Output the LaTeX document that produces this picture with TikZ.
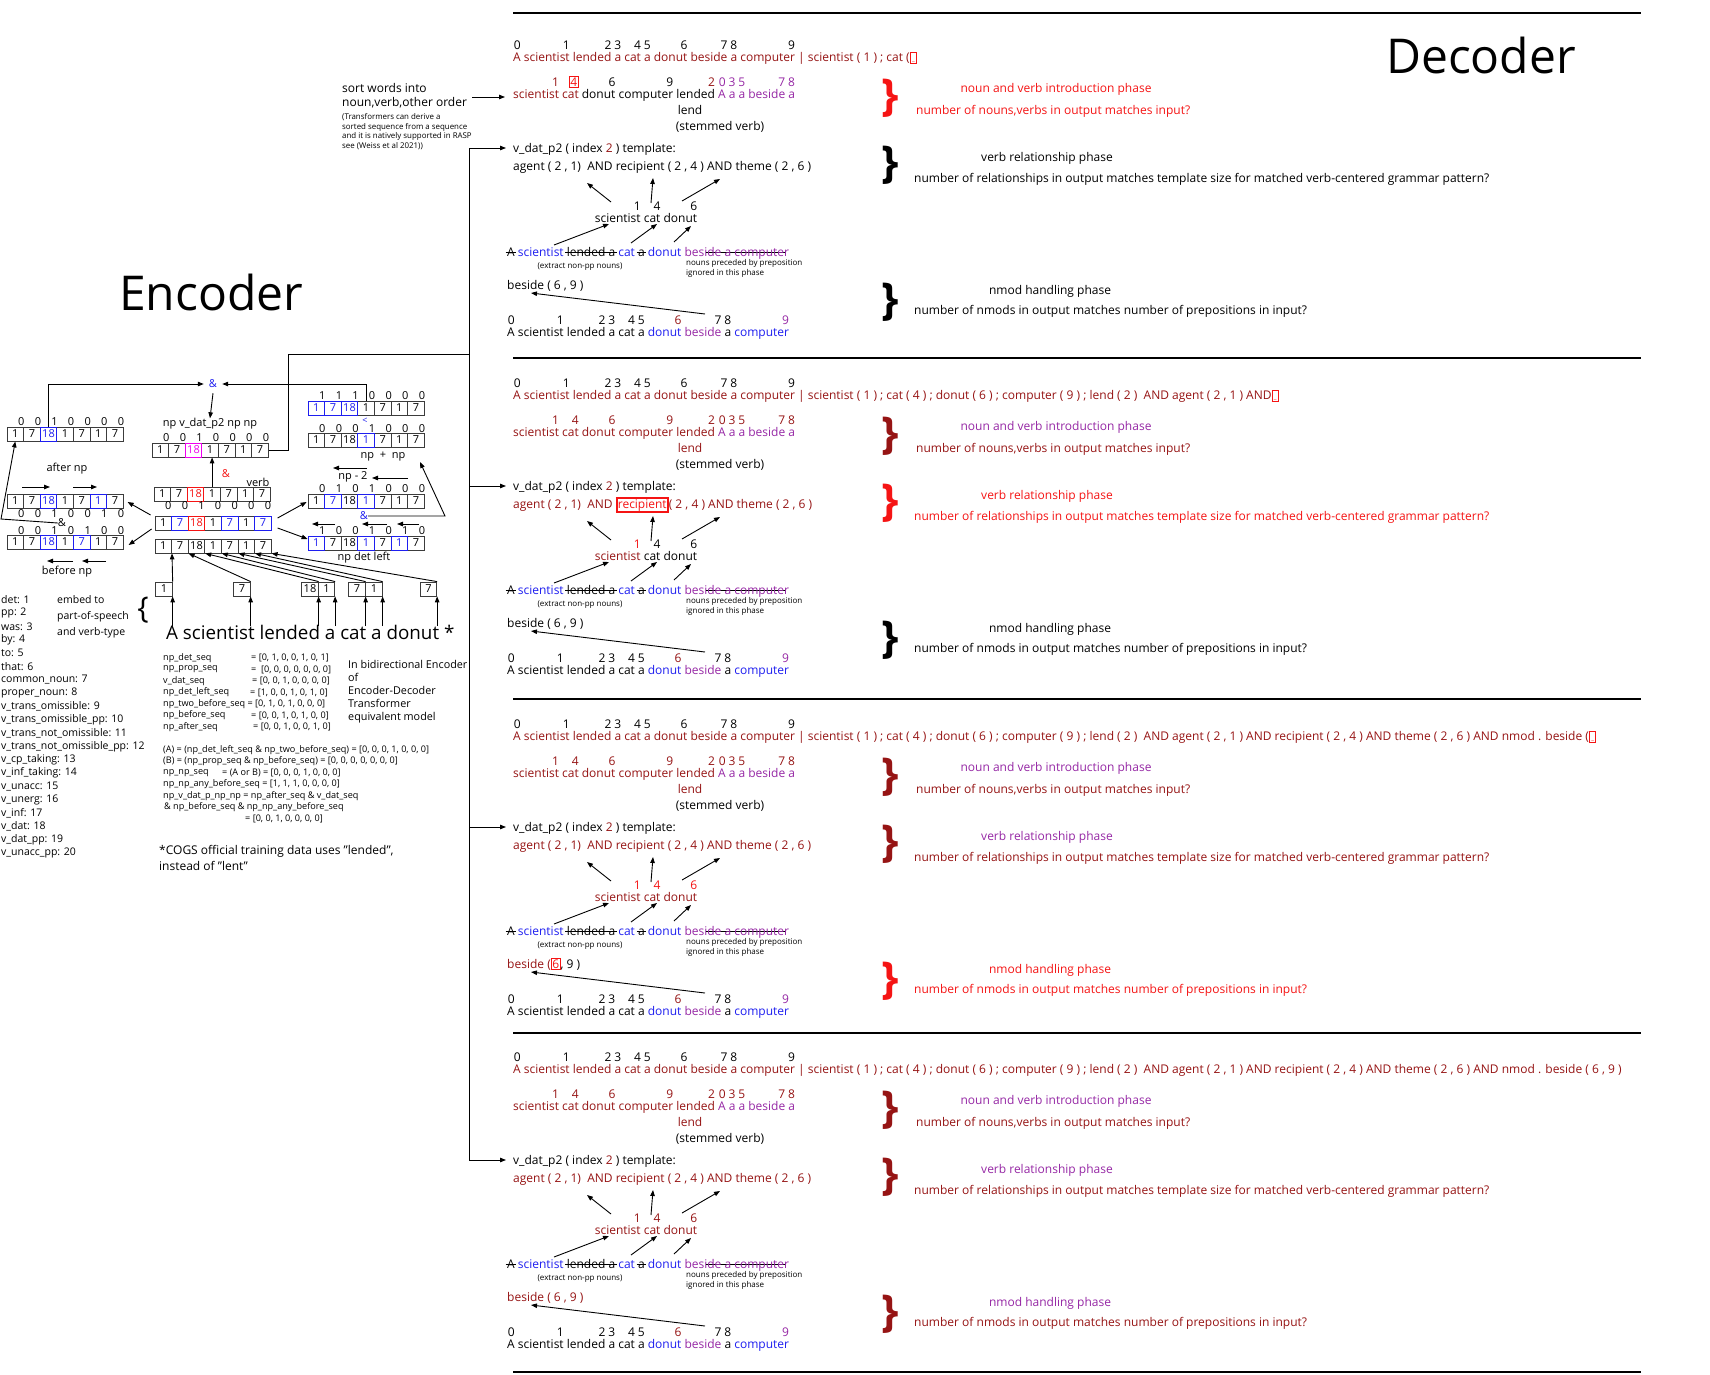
\documentclass[tikz,border=0pt]{standalone}
\usepackage{fontspec}
\setmainfont{Open Sans}
\usetikzlibrary{arrows.meta}
\definecolor{dred}{RGB}{150,20,20}
\definecolor{vpurp}{RGB}{150,40,165}
\definecolor{eblue}{RGB}{30,30,240}
\definecolor{mag}{RGB}{240,0,240}
\definecolor{bred}{RGB}{245,20,20}
\definecolor{cellgray}{RGB}{60,60,60}
\newcommand\fsz[1]{\fontsize{#1}{#1}\selectfont}
\newcommand\ix[2][black]{\llap{\smash{\raisebox{1.0em}{\textcolor{#1}{#2}}}}}
\newcommand\stk[1]{\setbox0\hbox{#1}\rlap{\kern-1.5pt\textcolor{black}{\rule[0.3em]{\dimexpr\wd0+3pt\relax}{0.7pt}}}\box0\relax}
\newcommand\rbox[1]{{\setlength\fboxsep{0.6pt}\setlength\fboxrule{0.9pt}\textcolor{bred}{\fbox{#1}}}}
\newcommand\tbox[1]{{\setlength\fboxsep{0.3pt}\setlength\fboxrule{1.8pt}\textcolor{bred}{\fbox{#1}}}}
\newcommand\curbox{{\setlength\fboxsep{0.8pt}\setlength\fboxrule{0.9pt}\textcolor{bred}{\fbox{\rule{0pt}{8pt}\makebox[4pt]{\fsz{6}\_}}}}}
\newcommand\cellrow[4]{\foreach \v [count=\i] in {#4} {\node[cell] (#1\i) at ({#2+(\i-0.5)*16.6},#3) {\v};}}
\newcommand\hl[4]{\node[cell,draw=#4,text=#4,fill=white] (#1#2h) at (#1#2) {#3};}
\newcommand\digrow[4]{\foreach \v [count=\i] in {#4} {\node[dig] (#1\i) at ({#2+(\i-0.5)*16.6+6},#3) {\v};}}
\newcommand\sentbot{A\ix{0} scientist\ix{1} lended\ix{2} a\ix{3} cat\ix{4} a\ix{5} \textcolor{eblue}{donut}\ix[dred]{6} \textcolor{vpurp}{beside}\ix{7} a\ix{8} \textcolor{eblue}{computer}\ix[vpurp]{9}}
\newcommand\senttop{A\ix{0} scientist\ix{1} lended\ix{2} a\ix{3} cat\ix{4} a\ix{5} donut\ix{6} beside\ix{7} a\ix{8} computer\ix{9}}
\newcommand\panel[2]{%
\begin{scope}[shift={(0,#2)}]
\node[txt] (#1top) at (513,57) {\topline};
\node[txt] (#1sort) at (513,94) {\sortline};
\node[txt,anchor=center] (#1lend) at (690,110) {\textcolor{\lendcol}{lend}};
\node[txt,anchor=center] (#1stem) at (720,126) {(stemmed verb)};
\node[txt] (#1vdat) at (513,148) {v\_dat\_p2 ( index \textcolor{dred}{2} ) template:};
\node[txt] (#1agent) at (513,166) {\agentline};
\node[txt,anchor=center] (#1scd) at (646,218) {\scdline};
\node[txt] (#1strike) at (507,252) {\stk{A} \textcolor{eblue}{scientist} \stk{lended a} \textcolor{eblue}{cat} \stk{a} \textcolor{eblue}{donut} \textcolor{vpurp}{besi\stk{de a compute}r}};
\node[sml,anchor=center] (#1ext) at (580,267) {(extract non-pp nouns)};
\node[sml,align=left,anchor=north west] (#1npp) at (686,259.5) {nouns preceded by preposition\\ignored in this phase};
\node[txt] (#1bes) at (507,285) {\besideline};
\node[txt] (#1bot) at (507,332) {\sentbot};
\foreach \n/\sx/\sy/\ex/\ey in {u1/611/202/587/183, u2/651/203/653/178, u3/682/201/720/179, v1/554/245/609/224, v2/631/243/657/224, v3/674/242/691/226, w1/705/314/531/293} {
  \coordinate (#1\n-s) at (\sx,\sy); \coordinate (#1\n-e) at (\ex,\ey);
  \draw[arr] (#1\n-s) -- (#1\n-e);}
\node[brc,text=\cBa] (#1b1) at (890,98) {\}};
\node[txt,anchor=center,text=\cTa] (#1t1) at (1056,88) {noun and verb introduction phase};
\node[txt,text=\cDa] (#1d1) at (916,110) {number of nouns,verbs in output matches input?};
\node[brc,text=\cBb] (#1b2) at (890,165) {\}};
\node[txt,anchor=center,text=\cTb] (#1t2) at (1047,157) {verb relationship phase};
\node[txt,text=\cDb] (#1d2) at (914,178) {number of relationships in output matches template size for matched verb-centered grammar pattern?};
\node[brc,text=\cBc] (#1b3) at (890,302) {\}};
\node[txt,anchor=center,text=\cTc] (#1t3) at (1050,290) {nmod handling phase};
\node[txt,text=\cDc] (#1d3) at (914,310) {number of nmods in output matches number of prepositions in input?};
\end{scope}}
\begin{document}
\begin{tikzpicture}[x=1pt,y=-1pt,
  txt/.style={font=\fsz{12},inner sep=0pt,anchor=west,text height=8.6pt,text depth=0pt},
  sml/.style={font=\fontsize{8}{10}\selectfont,inner sep=0pt},
  lbl/.style={font=\fsz{11},inner sep=0pt},
  dig/.style={font=\fsz{11},inner sep=0pt},
  cell/.style={draw=cellgray,line width=0.8pt,minimum width=16.6pt,minimum height=14pt,inner sep=0pt,font=\fsz{11}},
  inbox/.style={draw=cellgray,line width=0.8pt,minimum width=16.5pt,minimum height=14pt,inner sep=0pt,font=\fsz{11}},
  brc/.style={font=\fsz{44}\bfseries,inner sep=0pt},
  arr/.style={-{Triangle[length=6pt,width=4.5pt]},line width=0.9pt},
  ln/.style={line width=0.9pt}]
\useasboundingbox (0,0) rectangle (1710,1374);
\fill[white] (0,0) rectangle (1710,1374);

% ---------- separators and titles
\foreach \y [count=\k] in {13,358,699,1033,1372} {\coordinate (sepL\k) at (513,\y); \coordinate (sepR\k) at (1641,\y); \draw[line width=1.1pt] (sepL\k) -- (sepR\k);}
\node[font=\fsz{48},inner sep=0pt] (dectitle) at (1481,55) {Decoder};
\node[font=\fsz{48},inner sep=0pt] (enctitle) at (211,292) {Encoder};

% ---------- panels
\def\topline{\textcolor{dred}{\senttop\ | scientist ( 1 ) ; cat (}\curbox}
\def\sortline{\textcolor{dred}{scientist\ix[dred]{1} cat\ix{\rbox{4}}} donut\ix{6} computer\ix{9} lended\ix[dred]{2} \textcolor{vpurp}{A\ix[vpurp]{0} a\ix[vpurp]{3} a\ix[vpurp]{5} beside\ix[vpurp]{7} a\ix[vpurp]{8}}}
\def\agentline{agent ( 2 , 1)~ AND recipient ( 2 , 4 ) AND theme ( 2 , 6 )}
\def\scdline{scientist\ix{1} cat\ix{4} donut\ix{6}}
\def\besideline{beside ( 6 , 9 )}
\def\lendcol{black}
\def\cBa{bred}\def\cBb{black}\def\cBc{black}
\def\cTa{bred}\def\cTb{black}\def\cTc{black}
\def\cDa{bred}\def\cDb{black}\def\cDc{black}
\panel{p1}{0}

\def\topline{\textcolor{dred}{\senttop\ | scientist ( 1 ) ; cat ( 4 ) ; donut ( 6 ) ; computer ( 9 ) ; lend ( 2 )~ AND agent ( 2 , 1 ) AND}\curbox}
\def\sortline{\textcolor{dred}{scientist\ix[dred]{1} cat\ix[dred]{4} donut\ix[dred]{6} computer\ix[dred]{9} lended\ix[dred]{2}} \textcolor{vpurp}{A\ix[dred]{0} a\ix[dred]{3} a\ix[dred]{5} beside\ix[dred]{7} a\ix[dred]{8}}}
\def\agentline{\textcolor{dred}{agent ( 2 , 1)~ AND \tbox{recipient}( 2 , 4 ) AND theme ( 2 , 6 )}}
\def\scdline{\textcolor{dred}{scientist}\ix[bred]{1} cat\ix{4} donut\ix{6}}
\def\besideline{beside ( 6 , 9 )}
\def\lendcol{dred}
\def\cBa{dred}\def\cBb{bred}\def\cBc{black}
\def\cTa{vpurp}\def\cTb{bred}\def\cTc{black}
\def\cDa{dred}\def\cDb{bred}\def\cDc{black}
\panel{p2}{338}

\def\topline{\textcolor{dred}{\senttop\ | scientist ( 1 ) ; cat ( 4 ) ; donut ( 6 ) ; computer ( 9 ) ; lend ( 2 )~ AND agent ( 2 , 1 ) AND recipient ( 2 , 4 ) AND theme ( 2 , 6 ) AND nmod . beside (}\curbox}
\def\agentline{\textcolor{dred}{agent ( 2 , 1)~ AND recipient ( 2 , 4 ) AND theme ( 2 , 6 )}}
\def\scdline{\textcolor{dred}{scientist\ix[bred]{1} cat\ix[bred]{4} donut\ix[bred]{6}}}
\def\besideline{\textcolor{dred}{beside (}\rbox{6}, 9 )}
\def\cBa{dred}\def\cBb{dred}\def\cBc{bred}
\def\cTa{vpurp}\def\cTb{vpurp}\def\cTc{bred}
\def\cDa{dred}\def\cDb{dred}\def\cDc{bred}
\panel{p3}{679}

\def\topline{\textcolor{dred}{\senttop\ | scientist ( 1 ) ; cat ( 4 ) ; donut ( 6 ) ; computer ( 9 ) ; lend ( 2 )~ AND agent ( 2 , 1 ) AND recipient ( 2 , 4 ) AND theme ( 2 , 6 ) AND nmod . beside ( 6 , 9 )}}
\def\scdline{\textcolor{dred}{scientist\ix[dred]{1} cat\ix[dred]{4} donut\ix[dred]{6}}}
\def\besideline{\textcolor{dred}{beside ( 6 , 9 )}}
\def\cBa{dred}\def\cBb{dred}\def\cBc{dred}
\def\cTa{vpurp}\def\cTb{vpurp}\def\cTc{vpurp}
\def\cDa{dred}\def\cDb{dred}\def\cDc{dred}
\panel{p4}{1012}

% ---------- sort words note
\node[txt,font=\fsz{12}] (sl1) at (342,88) {sort words into};
\node[txt,font=\fsz{12}] (sl2) at (342,102) {noun,verb,other order};
\node[font=\fontsize{7.9}{9.8}\selectfont,inner sep=0pt,align=left,anchor=north west] (slnote) at (342,113) {(Transformers can derive a\\sorted sequence from a sequence\\and it is natively supported in RASP\\see (Weiss et al 2021))};
\coordinate (sortA) at (472,97); \coordinate (sortB) at (505,97);
\draw[arr] (sortA) -- (sortB);

% ---------- encoder cells
\cellrow{A}{7}{434}{1,7,18,1,7,1,7} \hl{A}{3}{18}{eblue}
\cellrow{B}{152}{450}{1,7,18,1,7,1,7} \hl{B}{3}{18}{mag}
\cellrow{C}{154}{494}{1,7,18,1,7,1,7} \hl{C}{3}{18}{bred}
\cellrow{D}{155}{523}{1,7,18,1,7,1,7} \hl{D}{2}{7}{eblue}\hl{D}{3}{18}{bred}\hl{D}{5}{7}{eblue}\hl{D}{7}{7}{eblue}
\cellrow{E}{155}{546}{1,7,18,1,7,1,7}
\cellrow{F}{7}{501}{1,7,18,1,7,1,7} \hl{F}{3}{18}{eblue}\hl{F}{6}{1}{eblue}
\cellrow{G}{7}{542}{1,7,18,1,7,1,7} \hl{G}{3}{18}{eblue}\hl{G}{5}{7}{eblue}
\cellrow{H}{308}{408}{1,7,18,1,7,1,7} \hl{H}{1}{1}{eblue}\hl{H}{2}{7}{eblue}\hl{H}{3}{18}{eblue}
\cellrow{I}{308}{440}{1,7,18,1,7,1,7} \hl{I}{4}{1}{eblue}
\cellrow{J}{308}{501}{1,7,18,1,7,1,7} \hl{J}{2}{7}{eblue}\hl{J}{4}{1}{eblue}
\cellrow{K}{308}{543}{1,7,18,1,7,1,7} \hl{K}{1}{1}{eblue}\hl{K}{4}{1}{eblue}\hl{K}{6}{1}{eblue}
\digrow{dA}{7}{422}{0,0,1,0,0,0,0}
\digrow{dB}{152}{438}{0,0,1,0,0,0,0}
\digrow{dC}{154}{506}{0,0,1,0,0,0,0}
\digrow{dF}{7}{514}{0,0,1,0,0,1,0}
\digrow{dG}{7}{531}{0,0,1,0,1,0,0}
\digrow{dH}{308}{396}{1,1,1,0,0,0,0}
\digrow{dI}{308}{429}{0,0,0,1,0,0,0}
\digrow{dJ}{308}{489}{0,1,0,1,0,0,0}
\digrow{dK}{308}{531}{1,0,0,1,0,1,0}

% ---------- encoder labels
\node[lbl,inner sep=5pt] (andA) at (213,384) {\textcolor{eblue}{\&}};
\node[lbl] (lblB) at (210,424) {np v\_dat\_p2 np np};
\node[lbl] (andC) at (226,474) {\textcolor{bred}{\&}};
\node[lbl] (verb) at (258,482) {verb};
\node[lbl] (andFG) at (62,523) {\&};
\node[lbl] (after) at (67,469) {after np};
\node[lbl] (before) at (67,572) {before np};
\node[lbl,font=\fsz{9}] (lt) at (365,421) {\textcolor{eblue}{<}};
\node[lbl] (npnp) at (383,457) {np~ +~ np};
\node[lbl] (np2) at (353,477) {np - 2};
\node[lbl] (andJ) at (364,516) {\textcolor{eblue}{\&}};
\node[lbl] (npdet) at (364,558) {np det left};

% ---------- encoder connectors
\draw[arr] (A3.north) |- (andA.west);
\draw[arr] (H4.north) |- (andA.east);
\draw[arr] (andA.south) -- (lblB.north);
\draw[arr] (C4.north) -- (C4.north |- B4.south);
\coordinate (bend1) at (288,354);
\coordinate (tTop) at (469,148); \coordinate (tJoin) at (469,354); \coordinate (tBot) at (469,1161);
\draw[ln] (B7.east) -| (bend1) -- (tJoin);
\draw[ln] (tTop) -- (tBot);
\foreach \p in {p1,p2,p3,p4} {\draw[arr] (\p vdat.west -| tTop) -- ([xshift=-7pt]\p vdat.west);}
\draw[arr] ([xshift=-4pt,yshift=8pt]D1.west) -- ([xshift=4pt,yshift=-1pt]F7.east);
\draw[arr] ([xshift=-3pt,yshift=-6pt]D1.west) -- ([xshift=5pt,yshift=-3pt]G7.east);
\draw[arr] ([xshift=6pt,yshift=5pt]D7.east) -- ([xshift=-1pt,yshift=-1pt]J1.west);
\draw[arr] ([xshift=6pt,yshift=-5pt]D7.east) -- ([xshift=0pt,yshift=4pt]K1.west);
\coordinate (lc) at (1,519);
\draw[arr] (andFG.west) -- (lc) -- (A1.south);
\coordinate (rc) at (445,516); \coordinate (rt) at (420,462);
\draw[arr] (andJ.east) -- (rc) -- (rt);
% small direction arrows
\foreach \n/\sx/\sy/\ex/\ey in {a1/22/487/50/487, a2/73/487/97/487, b1/73/561/47/561, b2/106/561/82/561, c1/367/468/333/468, c2/408/478/372/478, d1/335/524/312/524, d2/387/524/362/524, d3/419/524/397/524} {
  \coordinate (\n-s) at (\sx,\sy); \coordinate (\n-e) at (\ex,\ey); \draw[arr] (\n-s) -- (\n-e);}

% ---------- input sentence
\node[inbox] (in1) at (164,589) {1};
\node[inbox] (in2) at (242,589) {7};
\node[inbox] (in3) at (310,589) {18};
\node[inbox] (in4) at (326.5,589) {1};
\node[inbox] (in5) at (357,589) {7};
\node[inbox] (in6) at (374,589) {1};
\node[inbox] (in7) at (428.5,589) {7};
\node[font=\fsz{18.8},inner sep=0pt,anchor=west,text height=13.4pt,text depth=0pt] (insent) at (166,633) {A scientist lended a cat a donut *};
\foreach \k in {1,...,7} {\draw[arr] (in\k.south east |- insent.north) -- (in\k.south east);
  \draw[arr] (in\k.north east) -- (E\k.south east);}
\node[font=\fsz{30},inner sep=0pt] (lbrace) at (143,610) {\{};
\node[font=\fsz{10.5},inner sep=0pt,anchor=west] (emb1) at (57,600) {embed to};
\node[font=\fsz{10.5},inner sep=0pt,anchor=west] (emb2) at (57,616.5) {part-of-speech};
\node[font=\fsz{10.5},inner sep=0pt,anchor=west] (emb3) at (57,633) {and verb-type};
\foreach \t [count=\k] in {det: 1,pp: 2,was: 3,by: 4,to: 5,that: 6,common\_noun: 7,proper\_noun: 8,v\_trans\_omissible: 9,v\_trans\_omissible\_pp: 10,v\_trans\_not\_omissible: 11,v\_trans\_not\_omissible\_pp: 12,v\_cp\_taking: 13,v\_inf\_taking: 14,v\_unacc: 15,v\_unerg: 16,v\_inf: 17,v\_dat: 18,v\_dat\_pp: 19,v\_unacc\_pp: 20}
  {\node[font=\fsz{10.5},inner sep=0pt,anchor=west] (lst\k) at (1,{600+(\k-1)*13.3}) {\t};}

% ---------- code block
\tikzset{code/.style={font=\fsz{9.1},inner sep=0pt,anchor=west}}
\node[code] (c1n) at (163,658) {np\_det\_seq};           \node[code] (c1v) at (251,658) {= [0, 1, 0, 0, 1, 0, 1]};
\node[code] (c2n) at (163,669.5) {np\_prop\_seq};        \node[code] (c2v) at (251,669.5) {=~ [0, 0, 0, 0, 0, 0, 0]};
\node[code] (c3n) at (163,681) {v\_dat\_seq};            \node[code] (c3v) at (252,681) {= [0, 0, 1, 0, 0, 0, 0]};
\node[code] (c4n) at (163,692.5) {np\_det\_left\_seq};   \node[code] (c4v) at (250,692.5) {= [1, 0, 0, 1, 0, 1, 0]};
\node[code] (c5n) at (163,704) {np\_two\_before\_seq = [0, 1, 0, 1, 0, 0, 0]};
\node[code] (c6n) at (163,715.5) {np\_before\_seq};      \node[code] (c6v) at (251,715.5) {= [0, 0, 1, 0, 1, 0, 0]};
\node[code] (c7n) at (163,727) {np\_after\_seq};        \node[code] (c7v) at (253,727) {= [0, 0, 1, 0, 0, 1, 0]};
\node[code] (c8) at (163,750) {(A) = (np\_det\_left\_seq \& np\_two\_before\_seq) = [0, 0, 0, 1, 0, 0, 0]};
\node[code] (c9) at (163,761.5) {(B) = (np\_prop\_seq \& np\_before\_seq) = [0, 0, 0, 0, 0, 0, 0]};
\node[code] (c10n) at (163,773) {np\_np\_seq}; \node[code] (c10v) at (222,773) {= (A or B) = [0, 0, 0, 1, 0, 0, 0]};
\node[code] (c11) at (163,784.5) {np\_np\_any\_before\_seq = [1, 1, 1, 0, 0, 0, 0]};
\node[code] (c12) at (163,796) {np\_v\_dat\_p\_np\_np = np\_after\_seq \& v\_dat\_seq};
\node[code] (c13) at (164,807.5) {\& np\_before\_seq \& np\_np\_any\_before\_seq};
\node[code] (c14) at (245,819) {= [0, 0, 1, 0, 0, 0, 0]};
\foreach \t [count=\k] in {In bidirectional Encoder,of,Encoder-Decoder,Transformer,equivalent model}
  {\node[font=\fsz{10.8},inner sep=0pt,anchor=west] (bi\k) at (348,{664+(\k-1)*13.3}) {\t};}
\node[font=\fsz{12},inner sep=0pt,anchor=west] (cogs1) at (159,851) {*COGS official training data uses "lended",};
\node[font=\fsz{12},inner sep=0pt,anchor=west] (cogs2) at (159,866) {instead of "lent"};
\end{tikzpicture}
\end{document}
